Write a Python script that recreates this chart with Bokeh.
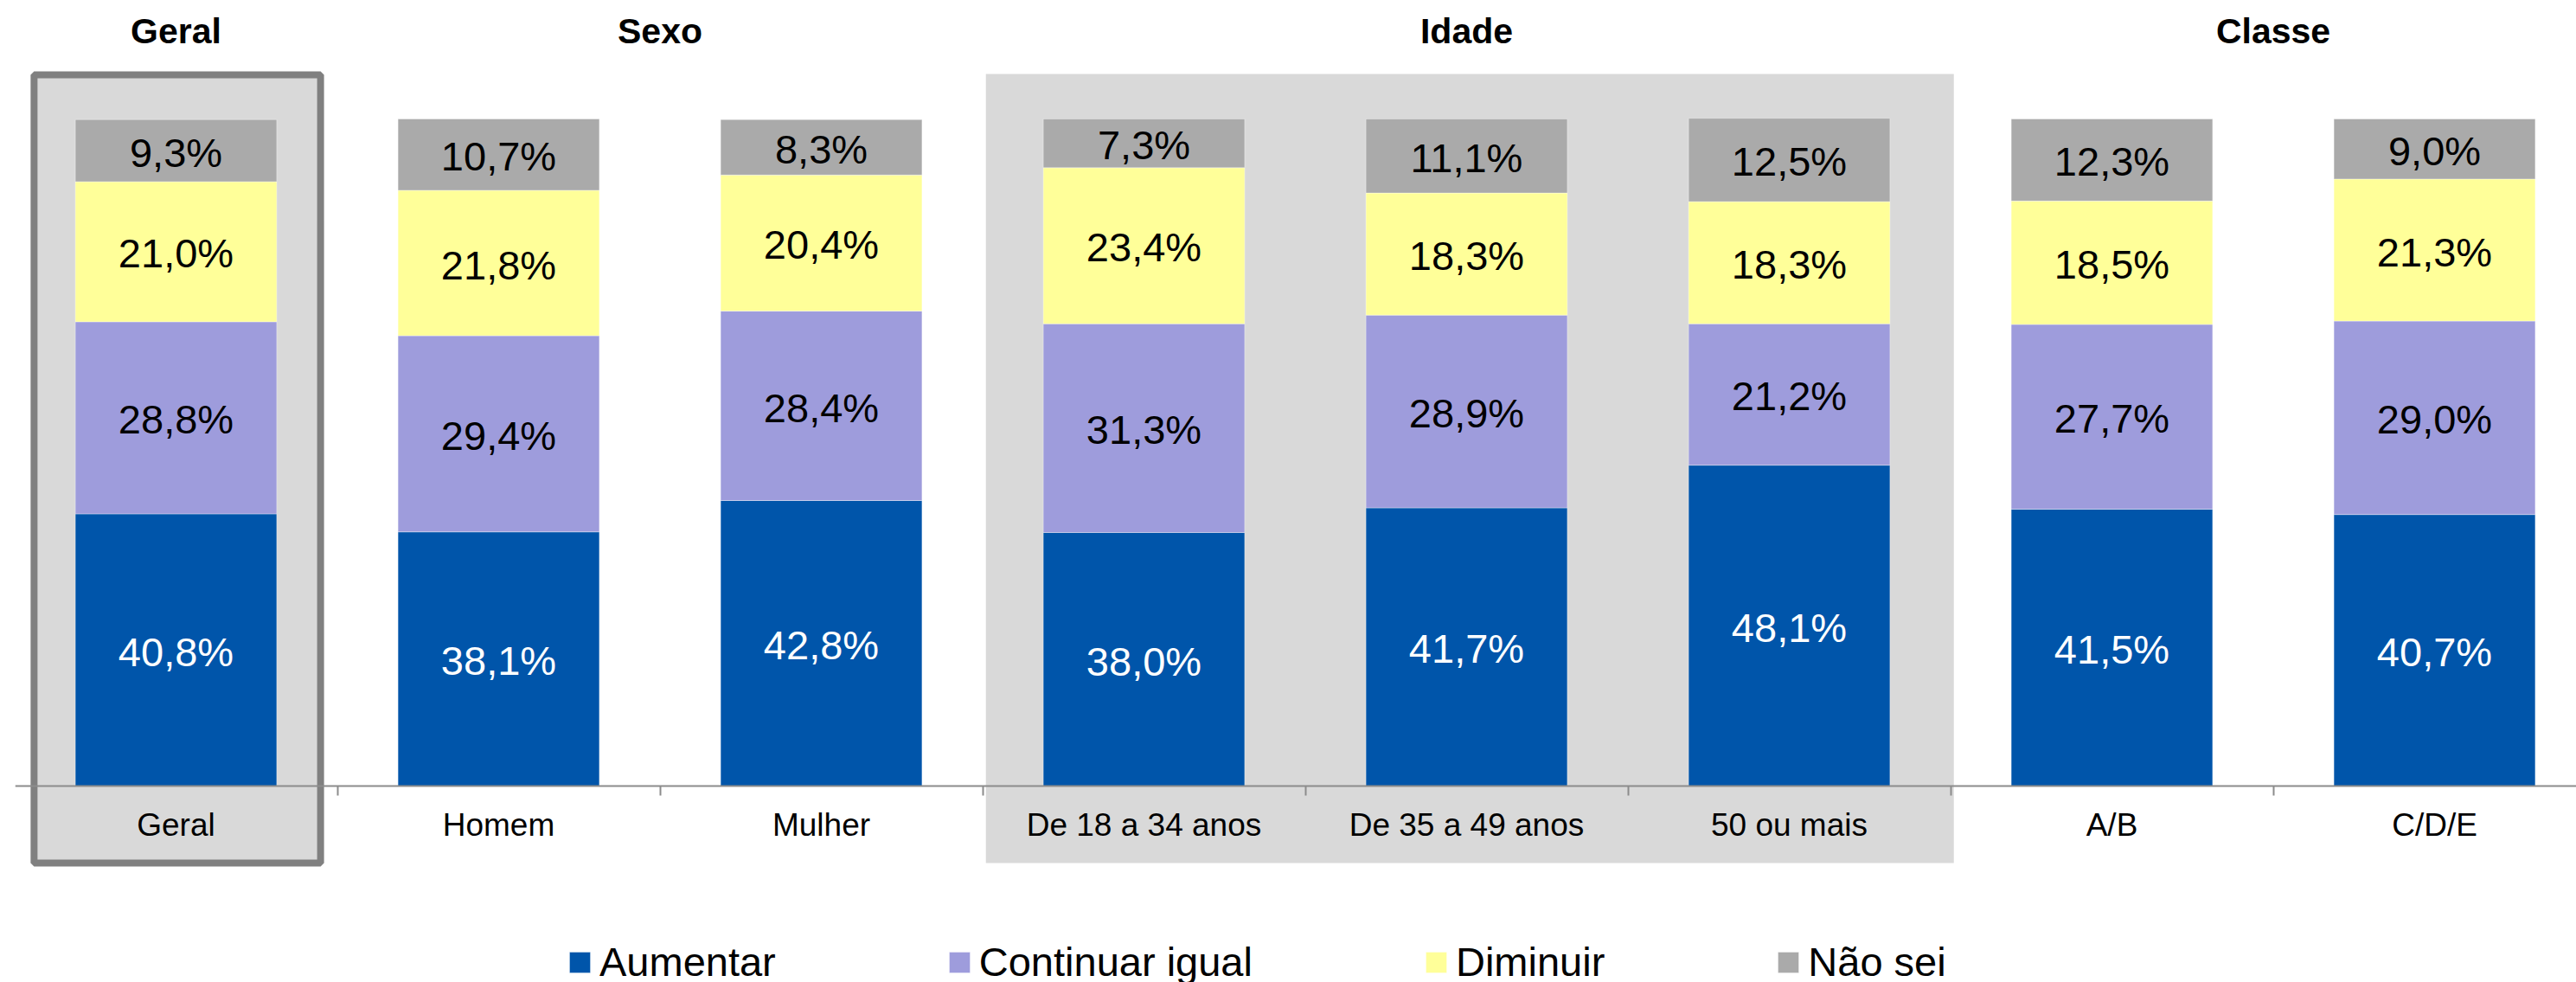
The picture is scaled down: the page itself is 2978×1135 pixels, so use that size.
from bokeh.plotting import figure
from bokeh.models import ColumnDataSource, Range1d, LinearAxis, FixedTicker, Legend, LegendItem
from bokeh.core.properties import value
from bokeh.embed import file_html
from bokeh.resources import INLINE

# ---- data ----
categories = ["Geral", "Homem", "Mulher", "De 18 a 34 anos", "De 35 a 49 anos",
              "50 ou mais", "A/B", "C/D/E"]
groups = ["Geral", "Sexo", "Idade", "Classe"]
group_of = ["Geral", "Sexo", "Sexo", "Idade", "Idade", "Idade", "Classe", "Classe"]
series = ["Aumentar", "Continuar igual", "Diminuir", "Não sei"]
aumentar = [40.8, 38.1, 42.8, 38.0, 41.7, 48.1, 41.5, 40.7]
continuar_igual = [28.8, 29.4, 28.4, 31.3, 28.9, 21.2, 27.7, 29.0]
diminuir = [21.0, 21.8, 20.4, 23.4, 18.3, 18.3, 18.5, 21.3]
nao_sei = [9.3, 10.7, 8.3, 7.3, 11.1, 12.5, 12.3, 9.0]

# ---- styles ----
colors = ["#0055AA", "#9E9CDC", "#FFFF99", "#AAAAAA"]
label_colors = ["white", "black", "black", "black"]
FONT = "Liberation Sans"
PX = 373.0           # pixels per category
X0 = 203.0           # pixel centre of first category
W, H = 2978, 1135
LEFT = 17
Y0_PX = 908.0        # pixel row of value 0
PPU = 7.71           # pixels per percentage unit

x = list(range(len(categories)))
values = [aumentar, continuar_igual, diminuir, nao_sei]
keys = ["aumentar", "continuar_igual", "diminuir", "nao_sei"]

p = figure(width=W, height=H, title=None,
           x_range=Range1d((LEFT - X0) / PX, (W - X0) / PX),
           y_range=Range1d(-(H - Y0_PX) / PPU, Y0_PX / PPU),
           x_axis_type=None, y_axis_type=None,
           toolbar_location=None, output_backend="svg",
           min_border_left=LEFT, min_border_right=0, min_border_top=0, min_border_bottom=0)
p.outline_line_color = None
p.background_fill_color = "white"

# highlight boxes behind groups
idade_idx = [i for i, g in enumerate(group_of) if g == "Idade"]
p.quad(left=[x[idade_idx[0]] - 0.49], right=[x[idade_idx[-1]] + 0.51],
       top=[106.74], bottom=[-11.54], fill_color="#D9D9D9", line_color=None, level="underlay")
p.quad(left=[x[0] - 0.44], right=[x[0] + 0.448], top=[106.6], bottom=[-11.54],
       fill_color="#D9D9D9", line_color="#808080", line_width=8, level="underlay")

src = ColumnDataSource(dict(x=x, **{k: v for k, v in zip(keys, values)}))
renderers = p.vbar_stack(keys, x="x", width=0.624, fill_color=colors,
                         line_color="white", line_alpha=0.35, line_width=1, source=src)

# data labels
cum = [0.0] * len(categories)
for vals, tc in zip(values, label_colors):
    mids = [c + v / 2 for c, v in zip(cum, vals)]
    cum = [c + v for c, v in zip(cum, vals)]
    txt = [f"{v:.1f}%".replace(".", ",") for v in vals]
    p.text(x=x, y=mids, text=txt, text_font=value(FONT), text_font_size="47px",
           text_color=tc, text_align="center", text_baseline="middle", y_offset=2)

# group titles
gx = []
for g in groups:
    idx = [i for i, gg in enumerate(group_of) if gg == g]
    gx.append(sum(x[i] for i in idx) / len(idx))
p.text(x=gx, y=[113.16] * len(groups), text=groups, text_font=value(FONT),
       text_font_size="41px", text_font_style="bold", text_color="black",
       text_align="center", text_baseline="middle")

# axes
tick_axis = LinearAxis(fixed_location=0,
                       ticker=FixedTicker(ticks=[i - 0.5 for i in range(len(categories) + 1)]),
                       axis_line_color="#8C8C8C", axis_line_width=2,
                       major_tick_line_color="#8C8C8C", major_tick_line_width=2,
                       major_tick_in=0, major_tick_out=11,
                       minor_tick_line_color=None,
                       major_label_text_alpha=0, major_label_text_font_size="1px")
label_axis = LinearAxis(fixed_location=0, ticker=FixedTicker(ticks=x),
                        major_label_overrides={i: c for i, c in zip(x, categories)},
                        axis_line_color=None, major_tick_line_color=None,
                        major_tick_in=0, major_tick_out=0, minor_tick_line_color=None,
                        major_label_text_font=FONT, major_label_text_font_size="37px",
                        major_label_text_color="black", major_label_standoff=24)
p.add_layout(tick_axis, "below")
p.add_layout(label_axis, "below")

legend = Legend(items=[LegendItem(label=s, renderers=[r]) for s, r in zip(series, renderers)],
                orientation="horizontal", location=(658 - LEFT - 3, -4),
                glyph_width=30, glyph_height=30, label_standoff=8, spacing=197,
                padding=0, margin=0, border_line_color=None, background_fill_alpha=0,
                label_text_font=FONT, label_text_font_size="47px", label_text_color="black")
p.add_layout(legend)

open("out.html", "w").write(file_html(p, INLINE))
